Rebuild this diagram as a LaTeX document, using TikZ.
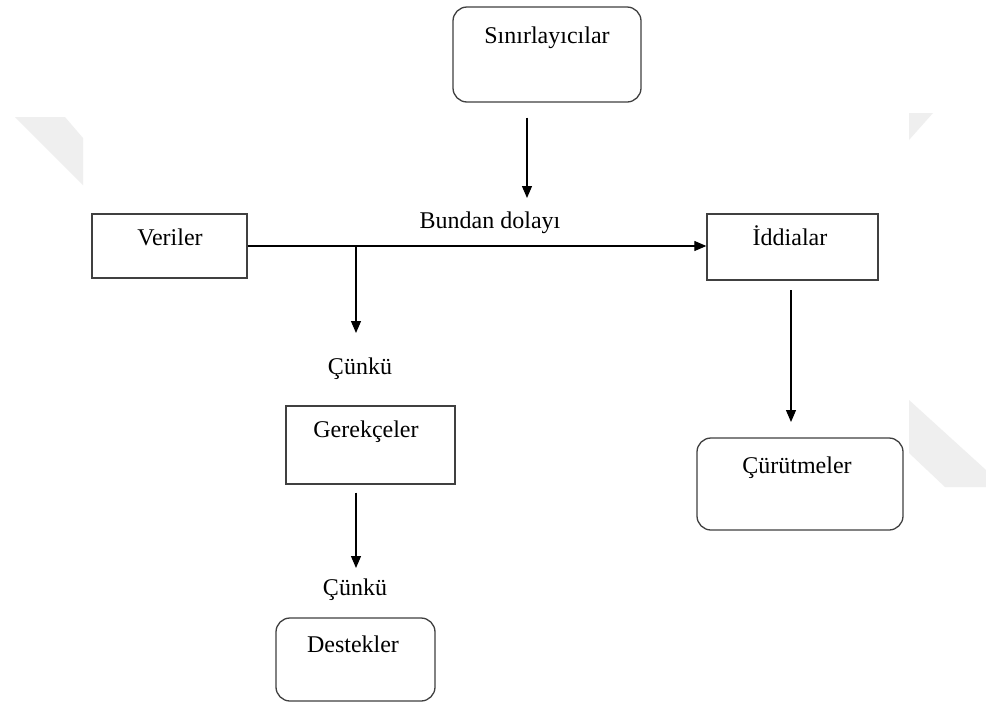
\documentclass[tikz,border=0pt]{standalone}
\usepackage{fontspec}
\setmainfont{Liberation Serif}
\usetikzlibrary{arrows.meta}
\definecolor{boxline}{HTML}{404040}
\definecolor{wm}{HTML}{EFEFEF}
\tikzset{
  box/.style={draw=boxline, line width=1.3pt, inner sep=0pt},
  rbox/.style={box, rounded corners=14pt},
  lbl/.style={anchor=base, inner sep=0pt, font=\fontsize{24}{28}\selectfont},
  arr/.style={draw=black, line width=1.2pt, -{Triangle[length=12pt,width=10pt]}},
  plain/.style={draw=black, line width=1.2pt}
}
\begin{document}
\begin{tikzpicture}[x=1pt,y=-1pt]
\useasboundingbox[fill=white] (0,0) rectangle (986,702);
% watermark shapes
\fill[wm] (15,117) -- (65,117) -- (83,138) -- (83,185) -- cycle;
\fill[wm] (909,113) -- (933,113) -- (909,140) -- cycle;
\fill[wm] (909,400) -- (986,470) -- (986,487) -- (945,487) -- (909,453) -- cycle;
% boxes
\node[rbox, minimum width=188pt, minimum height=95pt] (sin) at (547,54.5) {};
\node[box, minimum width=155pt, minimum height=64pt] (ver) at (169.5,246) {};
\node[box, minimum width=171pt, minimum height=66pt] (idd) at (792.5,247) {};
\node[box, minimum width=169pt, minimum height=78pt] (ger) at (370.5,445) {};
\node[rbox, minimum width=159pt, minimum height=83pt] (des) at (355.5,659.5) {};
\node[rbox, minimum width=206pt, minimum height=92pt] (cur) at (800,484) {};
% texts
\node[lbl] (tsin) at (547,43) {Sınırlayıcılar};
\node[lbl] (tver) at (170,245) {Veriler};
\node[lbl] (tidd) at (790,245) {İddialar};
\node[lbl] (tbun) at (490,228) {Bundan dolayı};
\node[lbl] (tcu1) at (360,374) {Çünkü};
\node[lbl] (tger) at (366,437) {Gerekçeler};
\node[lbl] (tcu2) at (355,595) {Çünkü};
\node[lbl] (tdes) at (353,652) {Destekler};
\node[lbl] (tcur) at (797,473) {Çürütmeler};
% connectors
\coordinate (limEnd) at (527,198);
\draw[arr, shorten <=15pt] (sin.south -| limEnd) -- (limEnd);
\draw[arr] (ver.east) -- (ver.east -| idd.west);
\coordinate (br) at (356,246);
\coordinate (brEnd) at (356,333);
\draw[arr] (br) -- (brEnd);
\coordinate (gerEnd) at (356,568);
\draw[arr, shorten <=8pt] (ger.south -| gerEnd) -- (gerEnd);
\coordinate (iddStart) at (791,290);
\coordinate (iddEnd) at (791,422);
\draw[arr] (iddStart) -- (iddEnd);
\end{tikzpicture}
\end{document}
